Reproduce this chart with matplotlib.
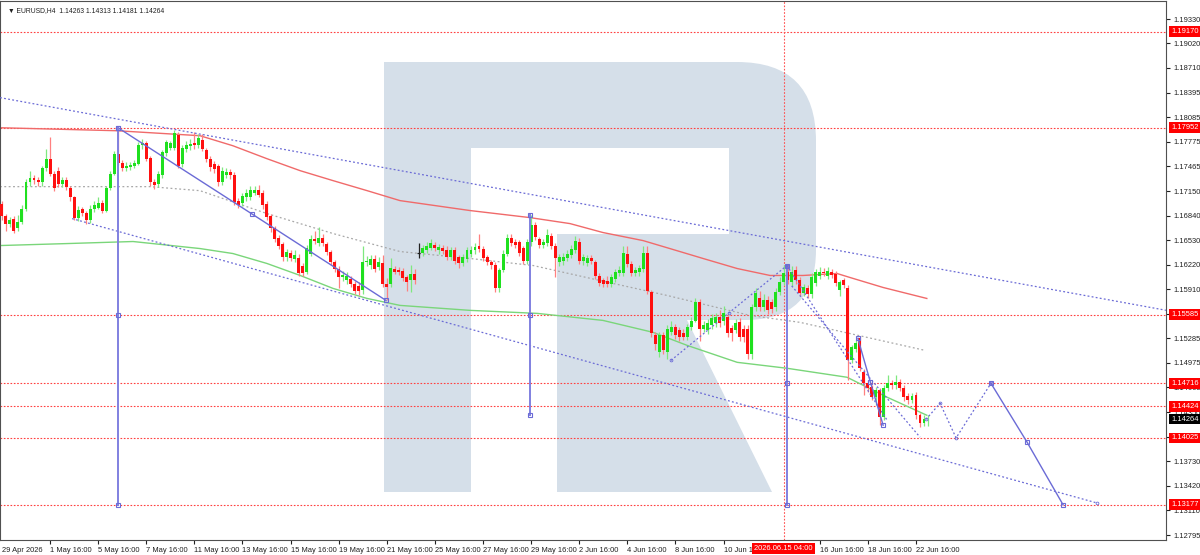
import numpy as np
import matplotlib
matplotlib.use("Agg")
import matplotlib.pyplot as plt
from matplotlib.path import Path
from matplotlib.patches import PathPatch
import matplotlib.transforms as mtransforms

plt.rcParams["font.family"] = ["Liberation Sans", "DejaVu Sans"]

# H4 bars, index 0 = 29 Apr 2026 00:00
first_bar = 4
opens = [1.1699, 1.1684, 1.1674, 1.1680, 1.1668, 1.1676, 1.1693, 1.1726, 1.1732, 1.1729,
         1.1726, 1.1744, 1.1756, 1.1737, 1.1741, 1.1724, 1.1729, 1.1719, 1.1707, 1.1681,
         1.1692, 1.1687, 1.1678, 1.1693, 1.1694, 1.1700, 1.1690, 1.1719, 1.1737, 1.1762,
         1.1751, 1.1744, 1.1745, 1.1747, 1.1750, 1.1773, 1.1776, 1.1757, 1.1727, 1.1724,
         1.1735, 1.1763, 1.1770, 1.1770, 1.1786, 1.1750, 1.1768, 1.1772, 1.1776, 1.1773,
         1.1780, 1.1767, 1.1756, 1.1750, 1.1747, 1.1726, 1.1736, 1.1739, 1.1735, 1.1702,
         1.1700, 1.1707, 1.1707, 1.1713, 1.1717, 1.1713, 1.1699, 1.1683, 1.1668, 1.1656,
         1.1648, 1.1631, 1.1637, 1.1629, 1.1630, 1.1620, 1.1612, 1.1636, 1.1655, 1.1649,
         1.1656, 1.1648, 1.1638, 1.1625, 1.1617, 1.1606, 1.1602, 1.1604, 1.1598, 1.1595,
         1.1590, 1.1625, 1.1621, 1.1629, 1.1619, 1.1624, 1.1598, 1.1598, 1.1616, 1.1615,
         1.1614, 1.1606, 1.1603, 1.1610, 1.1637, 1.1637, 1.1641, 1.1643, 1.1647, 1.1640,
         1.1643, 1.1641, 1.1632, 1.1640, 1.1631, 1.1624, 1.1629, 1.1636, 1.1640, 1.1645,
         1.1642, 1.1631, 1.1625, 1.1621, 1.1592, 1.1615, 1.1636, 1.1656, 1.1651, 1.1650,
         1.1643, 1.1627, 1.1650, 1.1672, 1.1654, 1.1647, 1.1649, 1.1658, 1.1646, 1.1625,
         1.1626, 1.1630, 1.1634, 1.1640, 1.1650, 1.1626, 1.1624, 1.1630, 1.1625, 1.1608,
         1.1602, 1.1601, 1.1598, 1.1604, 1.1611, 1.1611, 1.1636, 1.1623, 1.1611, 1.1612,
         1.1617, 1.1637, 1.1587, 1.1533, 1.1511, 1.1533, 1.1511, 1.1537, 1.1543, 1.1539,
         1.1535, 1.1530, 1.1543, 1.1551, 1.1574, 1.1541, 1.1539, 1.1545, 1.1548, 1.1555,
         1.1551, 1.1555, 1.1542, 1.1539, 1.1549, 1.1541, 1.1541, 1.1509, 1.1568, 1.1580,
         1.1568, 1.1577, 1.1574, 1.1568, 1.1587, 1.1600, 1.1612, 1.1600, 1.1615, 1.1602,
         1.1586, 1.1592, 1.1585, 1.1599, 1.1608, 1.1612, 1.1608, 1.1613, 1.1610, 1.1590,
         1.1602, 1.1592, 1.1501, 1.1515, 1.1529, 1.1486, 1.1472, 1.1467, 1.1454, 1.1463,
         1.1429, 1.1466, 1.1472, 1.1469, 1.1473, 1.1466, 1.1456, 1.1451, 1.1457, 1.1431,
         1.1421, 1.14263]
highs = [1.1703, 1.1686, 1.1682, 1.1683, 1.1685, 1.1697, 1.1731, 1.1740, 1.1736, 1.1733,
         1.1747, 1.1769, 1.1783, 1.1740, 1.1745, 1.1733, 1.1733, 1.1722, 1.1709, 1.1696,
         1.1695, 1.1690, 1.1697, 1.1702, 1.1707, 1.1704, 1.1722, 1.1741, 1.1766, 1.1795,
         1.1755, 1.1752, 1.1752, 1.1755, 1.1777, 1.1781, 1.1779, 1.1760, 1.1731, 1.1740,
         1.1767, 1.1780, 1.1779, 1.1793, 1.1790, 1.1774, 1.1778, 1.1781, 1.1790, 1.1787,
         1.1787, 1.1770, 1.1759, 1.1753, 1.1750, 1.1745, 1.1744, 1.1743, 1.1739, 1.1706,
         1.1713, 1.1718, 1.1722, 1.1721, 1.1723, 1.1717, 1.1702, 1.1686, 1.1671, 1.1660,
         1.1651, 1.1642, 1.1641, 1.1640, 1.1636, 1.1624, 1.1647, 1.1660, 1.1665, 1.1670,
         1.1661, 1.1651, 1.1641, 1.1628, 1.1620, 1.1614, 1.1612, 1.1608, 1.1601, 1.1600,
         1.1645, 1.1633, 1.1634, 1.1634, 1.1631, 1.1634, 1.1605, 1.1630, 1.1620, 1.1619,
         1.1618, 1.1609, 1.1621, 1.1616, 1.1649, 1.1647, 1.1650, 1.1655, 1.1651, 1.1648,
         1.1647, 1.1645, 1.1644, 1.1644, 1.1634, 1.1636, 1.1644, 1.1646, 1.1649, 1.1661,
         1.1646, 1.1634, 1.1628, 1.1625, 1.1618, 1.1640, 1.1661, 1.1661, 1.1654, 1.1653,
         1.1646, 1.1654, 1.1685, 1.1676, 1.1657, 1.1654, 1.1667, 1.1662, 1.1649, 1.1635,
         1.1637, 1.1640, 1.1647, 1.1658, 1.1656, 1.1635, 1.1634, 1.1634, 1.1628, 1.1611,
         1.1605, 1.1607, 1.1610, 1.1616, 1.1620, 1.1646, 1.1646, 1.1626, 1.1619, 1.1622,
         1.1646, 1.1646, 1.1590, 1.1537, 1.1537, 1.1537, 1.1545, 1.1551, 1.1547, 1.1543,
         1.1540, 1.1547, 1.1556, 1.1580, 1.1578, 1.1551, 1.1553, 1.1559, 1.1561, 1.1565,
         1.1569, 1.1560, 1.1546, 1.1553, 1.1554, 1.1545, 1.1545, 1.1572, 1.1592, 1.1588,
         1.1585, 1.1582, 1.1578, 1.1592, 1.1606, 1.1621, 1.1623, 1.1620, 1.1620, 1.1606,
         1.1598, 1.1596, 1.1611, 1.1617, 1.1619, 1.1618, 1.1619, 1.1617, 1.1614, 1.1603,
         1.1605, 1.1596, 1.1520, 1.1527, 1.1531, 1.1490, 1.1476, 1.1470, 1.1467, 1.1466,
         1.1470, 1.1482, 1.1476, 1.1482, 1.1477, 1.1469, 1.1459, 1.1459, 1.1460, 1.1434,
         1.1431, 1.14313]
lows = [1.1678, 1.1665, 1.1670, 1.1662, 1.1664, 1.1673, 1.1690, 1.1722, 1.1724, 1.1722,
        1.1722, 1.1740, 1.1734, 1.1715, 1.1720, 1.1720, 1.1716, 1.1702, 1.1678, 1.1677,
        1.1683, 1.1674, 1.1675, 1.1689, 1.1692, 1.1687, 1.1688, 1.1716, 1.1735, 1.1748,
        1.1740, 1.1741, 1.1742, 1.1744, 1.1748, 1.1769, 1.1753, 1.1722, 1.1718, 1.1720,
        1.1732, 1.1760, 1.1767, 1.1767, 1.1744, 1.1746, 1.1764, 1.1767, 1.1769, 1.1770,
        1.1766, 1.1752, 1.1741, 1.1738, 1.1722, 1.1723, 1.1732, 1.1731, 1.1697, 1.1694,
        1.1696, 1.1703, 1.1704, 1.1710, 1.1707, 1.1693, 1.1678, 1.1663, 1.1651, 1.1642,
        1.1627, 1.1626, 1.1626, 1.1625, 1.1607, 1.1607, 1.1610, 1.1633, 1.1648, 1.1646,
        1.1645, 1.1634, 1.1621, 1.1612, 1.1592, 1.1601, 1.1597, 1.1593, 1.1585, 1.1583,
        1.1585, 1.1620, 1.1616, 1.1613, 1.1615, 1.1594, 1.1577, 1.1593, 1.1610, 1.1609,
        1.1601, 1.1589, 1.1587, 1.1598, 1.1630, 1.1633, 1.1637, 1.1640, 1.1639, 1.1636,
        1.1635, 1.1628, 1.1628, 1.1623, 1.1618, 1.1620, 1.1625, 1.1632, 1.1636, 1.1638,
        1.1626, 1.1621, 1.1617, 1.1587, 1.1587, 1.1612, 1.1633, 1.1645, 1.1643, 1.1633,
        1.1623, 1.1623, 1.1646, 1.1653, 1.1643, 1.1643, 1.1645, 1.1642, 1.1606, 1.1620,
        1.1622, 1.1626, 1.1630, 1.1637, 1.1623, 1.1622, 1.1620, 1.1623, 1.1604, 1.1595,
        1.1593, 1.1594, 1.1594, 1.1600, 1.1607, 1.1608, 1.1619, 1.1607, 1.1607, 1.1608,
        1.1613, 1.1585, 1.1530, 1.1514, 1.1505, 1.1509, 1.1503, 1.1533, 1.1528, 1.1525,
        1.1526, 1.1526, 1.1539, 1.1549, 1.1525, 1.1536, 1.1534, 1.1541, 1.1543, 1.1543,
        1.1546, 1.1530, 1.1525, 1.1535, 1.1525, 1.1524, 1.1502, 1.1503, 1.1563, 1.1563,
        1.1563, 1.1560, 1.1561, 1.1563, 1.1583, 1.1596, 1.1597, 1.1595, 1.1598, 1.1582,
        1.1582, 1.1580, 1.1580, 1.1595, 1.1604, 1.1607, 1.1604, 1.1605, 1.1595, 1.1582,
        1.1592, 1.1476, 1.1497, 1.1511, 1.1487, 1.1457, 1.1460, 1.1450, 1.1444, 1.1419,
        1.1425, 1.1462, 1.1464, 1.1465, 1.1462, 1.1449, 1.1445, 1.1447, 1.1427, 1.1416,
        1.1417, 1.14181]
closes = [1.1684, 1.1674, 1.1679, 1.1665, 1.1676, 1.1693, 1.1726, 1.1732, 1.1729, 1.1726,
          1.1744, 1.1756, 1.1737, 1.1719, 1.1724, 1.1729, 1.1720, 1.1707, 1.1681, 1.1691,
          1.1687, 1.1678, 1.1693, 1.1697, 1.1700, 1.1690, 1.1719, 1.1737, 1.1762, 1.1751,
          1.1744, 1.1747, 1.1748, 1.1751, 1.1773, 1.1776, 1.1756, 1.1726, 1.1723, 1.1737,
          1.1764, 1.1777, 1.1776, 1.1788, 1.1747, 1.1770, 1.1774, 1.1775, 1.1773, 1.1782,
          1.1769, 1.1756, 1.1745, 1.1743, 1.1726, 1.1741, 1.1739, 1.1735, 1.1701, 1.1698,
          1.1709, 1.1713, 1.1717, 1.1717, 1.1710, 1.1697, 1.1682, 1.1668, 1.1655, 1.1646,
          1.1631, 1.1638, 1.1630, 1.1634, 1.1611, 1.1611, 1.1643, 1.1655, 1.1652, 1.1656,
          1.1649, 1.1638, 1.1625, 1.1616, 1.1606, 1.1609, 1.1608, 1.1598, 1.1589, 1.1589,
          1.1625, 1.1627, 1.1629, 1.1617, 1.1625, 1.1598, 1.1593, 1.1618, 1.1613, 1.1612,
          1.1605, 1.1600, 1.1610, 1.1602, 1.1637, 1.1643, 1.1645, 1.1649, 1.1643, 1.1644,
          1.1639, 1.1632, 1.1640, 1.1627, 1.1624, 1.1631, 1.1640, 1.1641, 1.1644, 1.1642,
          1.1630, 1.1625, 1.1621, 1.1592, 1.1615, 1.1636, 1.1656, 1.1649, 1.1647, 1.1637,
          1.1627, 1.1650, 1.1672, 1.1657, 1.1647, 1.1650, 1.1659, 1.1646, 1.1630, 1.1631,
          1.1632, 1.1636, 1.1642, 1.1652, 1.1627, 1.1631, 1.1630, 1.1627, 1.1608, 1.1599,
          1.1598, 1.1598, 1.1606, 1.1612, 1.1615, 1.1637, 1.1623, 1.1611, 1.1615, 1.1618,
          1.1637, 1.1589, 1.1535, 1.1522, 1.1533, 1.1514, 1.1541, 1.1543, 1.1533, 1.1530,
          1.1530, 1.1543, 1.1551, 1.1574, 1.1541, 1.1545, 1.1548, 1.1554, 1.1555, 1.1548,
          1.1561, 1.1535, 1.1535, 1.1548, 1.1530, 1.1530, 1.1509, 1.1568, 1.1586, 1.1568,
          1.1577, 1.1564, 1.1566, 1.1587, 1.1600, 1.1611, 1.1602, 1.1612, 1.1602, 1.1586,
          1.1593, 1.1585, 1.1606, 1.1612, 1.1613, 1.1611, 1.1614, 1.1609, 1.1599, 1.1600,
          1.1596, 1.1501, 1.1517, 1.1523, 1.1491, 1.1472, 1.1466, 1.1454, 1.1463, 1.1429,
          1.1466, 1.1472, 1.1469, 1.1473, 1.1466, 1.1454, 1.1451, 1.1455, 1.1431, 1.1421,
          1.1427, 1.14264]

# moving averages / channel mid-line (bar index, price)
red_ma_t = [3.5, 32.7, 53.4, 61.6, 70.1, 78.4, 86.6, 95.1, 103.3, 120.8, 135.7, 145.7, 153.9,
            163.9, 170.6, 178.9, 187.4, 195.6, 203.8, 212.3, 215.5, 223.8, 234.7]
red_ma_p = [1.17953, 1.17915, 1.17852, 1.17725, 1.17561, 1.17409, 1.17283, 1.17156, 1.17030,
            1.16904, 1.16815, 1.16739, 1.16626, 1.16524, 1.16423, 1.16297, 1.16170, 1.16082,
            1.16082, 1.16107, 1.16057, 1.15930, 1.15791]
green_ma_t = [3.5, 20.2, 36.7, 53.4, 61.6, 70.1, 78.4, 86.6, 95.1, 103.3, 120.8, 137.5, 153.9,
              166.4, 174.9, 187.4, 199.8, 214.8, 224.8, 234.7]
green_ma_p = [1.16461, 1.16486, 1.16512, 1.16423, 1.16360, 1.16234, 1.16082, 1.15918, 1.15791,
              1.15703, 1.15640, 1.15602, 1.15513, 1.15362, 1.15197, 1.14982, 1.14907, 1.14793,
              1.14540, 1.14312]
grey_t = [3.5, 40.9, 53.4, 70.1, 86.6, 103.3, 120.8, 136.5, 153.2, 169.9, 190.6, 203.1, 234.2]
grey_p = [1.17207, 1.17207, 1.17156, 1.16866, 1.16613, 1.16385, 1.16297, 1.16208, 1.16018,
          1.15829, 1.15576, 1.15488, 1.15134]

levels = [1.19170, 1.17952, 1.15585, 1.14716, 1.14424, 1.14025, 1.13177]
price_ticks = [1.19330, 1.19020, 1.18710, 1.18395, 1.18085, 1.17775, 1.17465, 1.17150, 1.16840,
               1.16530, 1.16220, 1.15910, 1.15600, 1.15285, 1.14975, 1.14665, 1.14350, 1.14040,
               1.13730, 1.13420, 1.13110, 1.12795]
last_price = 1.14264

date_t = [16, 28, 40, 52, 64, 76, 88, 100, 112, 124, 136, 148, 160, 172, 184, 208, 220, 232]
date_labels = ["1 May 16:00", "5 May 16:00", "7 May 16:00", "11 May 16:00", "13 May 16:00",
               "15 May 16:00", "19 May 16:00", "21 May 16:00", "25 May 16:00", "27 May 16:00",
               "29 May 16:00", "2 Jun 16:00", "4 Jun 16:00", "8 Jun 16:00", "10 Jun 16:00",
               "16 Jun 16:00", "18 Jun 16:00", "22 Jun 16:00"]
cursor_t = 199
cursor_label = "2026.06.15 04:00"

# trend channel
upper_a, upper_b = (35.2, 1.18041), (290.4, 1.15678)
lower_t, lower_p = [21.5, 277.2], [1.16802, 1.13200]
fall_t, fall_p = [32.95, 66.4, 99.8], [1.17953, 1.16860, 1.15766]
# range verticals: bar, top, middle, bottom
ranges = [(32.9, 1.17952, 1.15585, 1.13177),
          (135.7, 1.16853, 1.15585, 1.14312),
          (199.9, 1.16208, 1.14716, 1.13177)]
rise_t, rise_p = [170.9, 185.3, 199.8], [1.15007, 1.15607, 1.16208]
drop1_t, drop1_p = [199.8, 224.8], [1.16208, 1.14249]
drop2_t, drop2_p = [201.0, 233.0], [1.15950, 1.14034]
wave_t, wave_p = [217.5, 220.6, 223.8], [1.15286, 1.14736, 1.14186]
fc_dot_t = [234.5, 238.0, 242.0, 250.7]
fc_dot_p = [1.14260, 1.14464, 1.14025, 1.14716]
fc_solid_t = [250.7, 259.7, 268.7]
fc_solid_p = [1.14716, 1.13971, 1.13177]

# ---------------------------------------------------------------
W, H = 1200, 555
FS = 5.4
fig = plt.figure(figsize=(W / 100, H / 100), dpi=100)
fig.patch.set_facecolor("white")
ax = fig.add_axes([0.0, 15 / H, 1166 / W, 1 - 16 / H])
ax.set_xlim(3.517, 294.36)
ax.set_ylim(1.12732, 1.19558)

# watermark R (figure pixel coordinates)
def fp(x, y):
    return (x / W, 1 - y / H)

M, L, C3, CL = Path.MOVETO, Path.LINETO, Path.CURVE3, Path.CLOSEPOLY
r_pts = [((384, 62), M), ((737, 62), L), ((816, 62), C3), ((816, 141), C3), ((816, 250), L),
         ((816, 320), C3), ((745, 320), C3), ((687, 320), L), ((772, 492), L), ((557, 492), L),
         ((557, 234), L), ((729, 234), L), ((729, 148), L), ((471, 148), L), ((471, 492), L),
         ((384, 492), L), ((384, 62), CL)]
r_path = Path([fp(*p) for p, _ in r_pts], [c for _, c in r_pts])
ax.add_patch(PathPatch(r_path, transform=fig.transFigure, fc="#d5dfe9", ec="none", zorder=0))

# horizontal levels
for lv in levels:
    ax.axhline(lv, color="#ff4040", lw=0.8, ls=(0, (1.5, 1.5)), zorder=1)
ax.axvline(cursor_t, color="#ff5050", lw=0.8, ls=(0, (1.5, 1.5)), zorder=1)

# moving averages
ax.plot(red_ma_t, red_ma_p, color="#f06a6a", lw=1.0, zorder=2)
ax.plot(green_ma_t, green_ma_p, color="#7ad67a", lw=1.0, zorder=2)
ax.plot(grey_t, grey_p, color="#a8a8a8", lw=0.9, ls=(0, (1.5, 2)), zorder=2)

# candles
bars = np.arange(first_bar, first_bar + len(closes))
o = np.array(opens); h = np.array(highs); l = np.array(lows); c = np.array(closes)
up = c > o
dn = c < o
flat = c == o
ax.vlines(bars[up], l[up], h[up], color="#7fe87f", lw=0.9, zorder=3)
ax.vlines(bars[dn], l[dn], h[dn], color="#ff8080", lw=0.9, zorder=3)
ax.vlines(bars[flat], l[flat], h[flat], color="#222222", lw=0.9, zorder=3)
ax.bar(bars[up], c[up] - o[up], bottom=o[up], width=0.74, color="#1fe01f", lw=0, zorder=4)
ax.bar(bars[dn], o[dn] - c[dn], bottom=c[dn], width=0.74, color="#ff1010", lw=0, zorder=4)
ax.hlines(o[flat], bars[flat] - 0.4, bars[flat] + 0.4, color="#222222", lw=0.9, zorder=4)

# drawings
blue = "#6b6bd6"
dot = (0, (1.5, 1.8))
ax.axline(upper_a, upper_b, color=blue, lw=0.9, ls=dot, zorder=5)
ax.plot(lower_t, lower_p, color=blue, lw=0.9, ls=dot, zorder=5)
ax.plot(fall_t, fall_p, color=blue, lw=1.0, zorder=5, marker="s", ms=2.5, mfc="none", mew=0.8)
for bt, top, mid, bot in ranges:
    ax.plot([bt, bt, bt], [top, mid, bot], color="#8080e0", lw=1.4, zorder=5,
            marker="s", ms=2.5, mfc="none", mec=blue, mew=0.8)
ax.plot(rise_t, rise_p, color=blue, lw=0.9, ls=dot, zorder=5, marker="o", ms=2, mfc="none", mew=0.6)
ax.plot(drop1_t, drop1_p, color=blue, lw=0.9, ls=dot, zorder=5)
ax.plot(drop2_t, drop2_p, color=blue, lw=0.9, ls=dot, zorder=5)
ax.plot(wave_t, wave_p, color=blue, lw=1.0, zorder=5, marker="s", ms=2.5, mfc="none", mew=0.8)
ax.plot(fc_dot_t, fc_dot_p, color=blue, lw=0.9, ls=dot, zorder=5, marker="o", ms=2, mfc="none", mew=0.6)
ax.plot(fc_solid_t, fc_solid_p, color=blue, lw=1.0, zorder=5, marker="s", ms=2.5, mfc="none", mew=0.8)
ax.plot([lower_t[1]], [lower_p[1]], ls="none", marker="o", ms=2, mfc="none", mec=blue, mew=0.6, zorder=5)

# frame and axes
for s in ax.spines.values():
    s.set_color("#505050")
    s.set_linewidth(0.8)
ax.yaxis.tick_right()
ax.set_yticks(price_ticks)
ax.set_yticklabels([f"{p:.5f}" for p in price_ticks])
ax.tick_params(axis="y", labelsize=FS, length=3, pad=2, colors="#202020")
ax.set_xticks(date_t)
ax.set_xticklabels(date_labels)
ax.tick_params(axis="x", labelsize=FS, length=3, pad=2, colors="#202020")
for lab in ax.get_xticklabels():
    lab.set_horizontalalignment("left")

ytr = mtransforms.blended_transform_factory(ax.transAxes, ax.transData)
box_red = dict(boxstyle="square,pad=0.25", fc="#ff0000", ec="none")
for lv in levels:
    ax.text(1.0045, lv, f"{lv:.5f}", transform=ytr, fontsize=FS, color="white", va="center",
            ha="left", clip_on=False, zorder=10, bbox=box_red)
ax.text(1.0045, last_price, f"{last_price:.5f}", transform=ytr, fontsize=FS, color="white",
        va="center", ha="left", clip_on=False, zorder=10,
        bbox=dict(boxstyle="square,pad=0.25", fc="#000000", ec="none"))

xtr = mtransforms.blended_transform_factory(ax.transData, ax.transAxes)
ax.text(cursor_t, -0.009, cursor_label, transform=xtr, fontsize=FS, color="white", va="top",
        ha="center", clip_on=False, zorder=10,
        bbox=dict(boxstyle="square,pad=0.3", fc="#ff0000", ec="none"))
ax.text(0.002, -0.013, "29 Apr 2026", transform=ax.transAxes, fontsize=FS, color="#202020",
        va="top", ha="left", clip_on=False)

ax.text(0.007, 0.988, "\u25bc EURUSD,H4  1.14263 1.14313 1.14181 1.14264",
        transform=ax.transAxes, fontsize=4.9, color="#202020", va="top", ha="left", zorder=10)

fig.savefig("out.png", dpi=100)
